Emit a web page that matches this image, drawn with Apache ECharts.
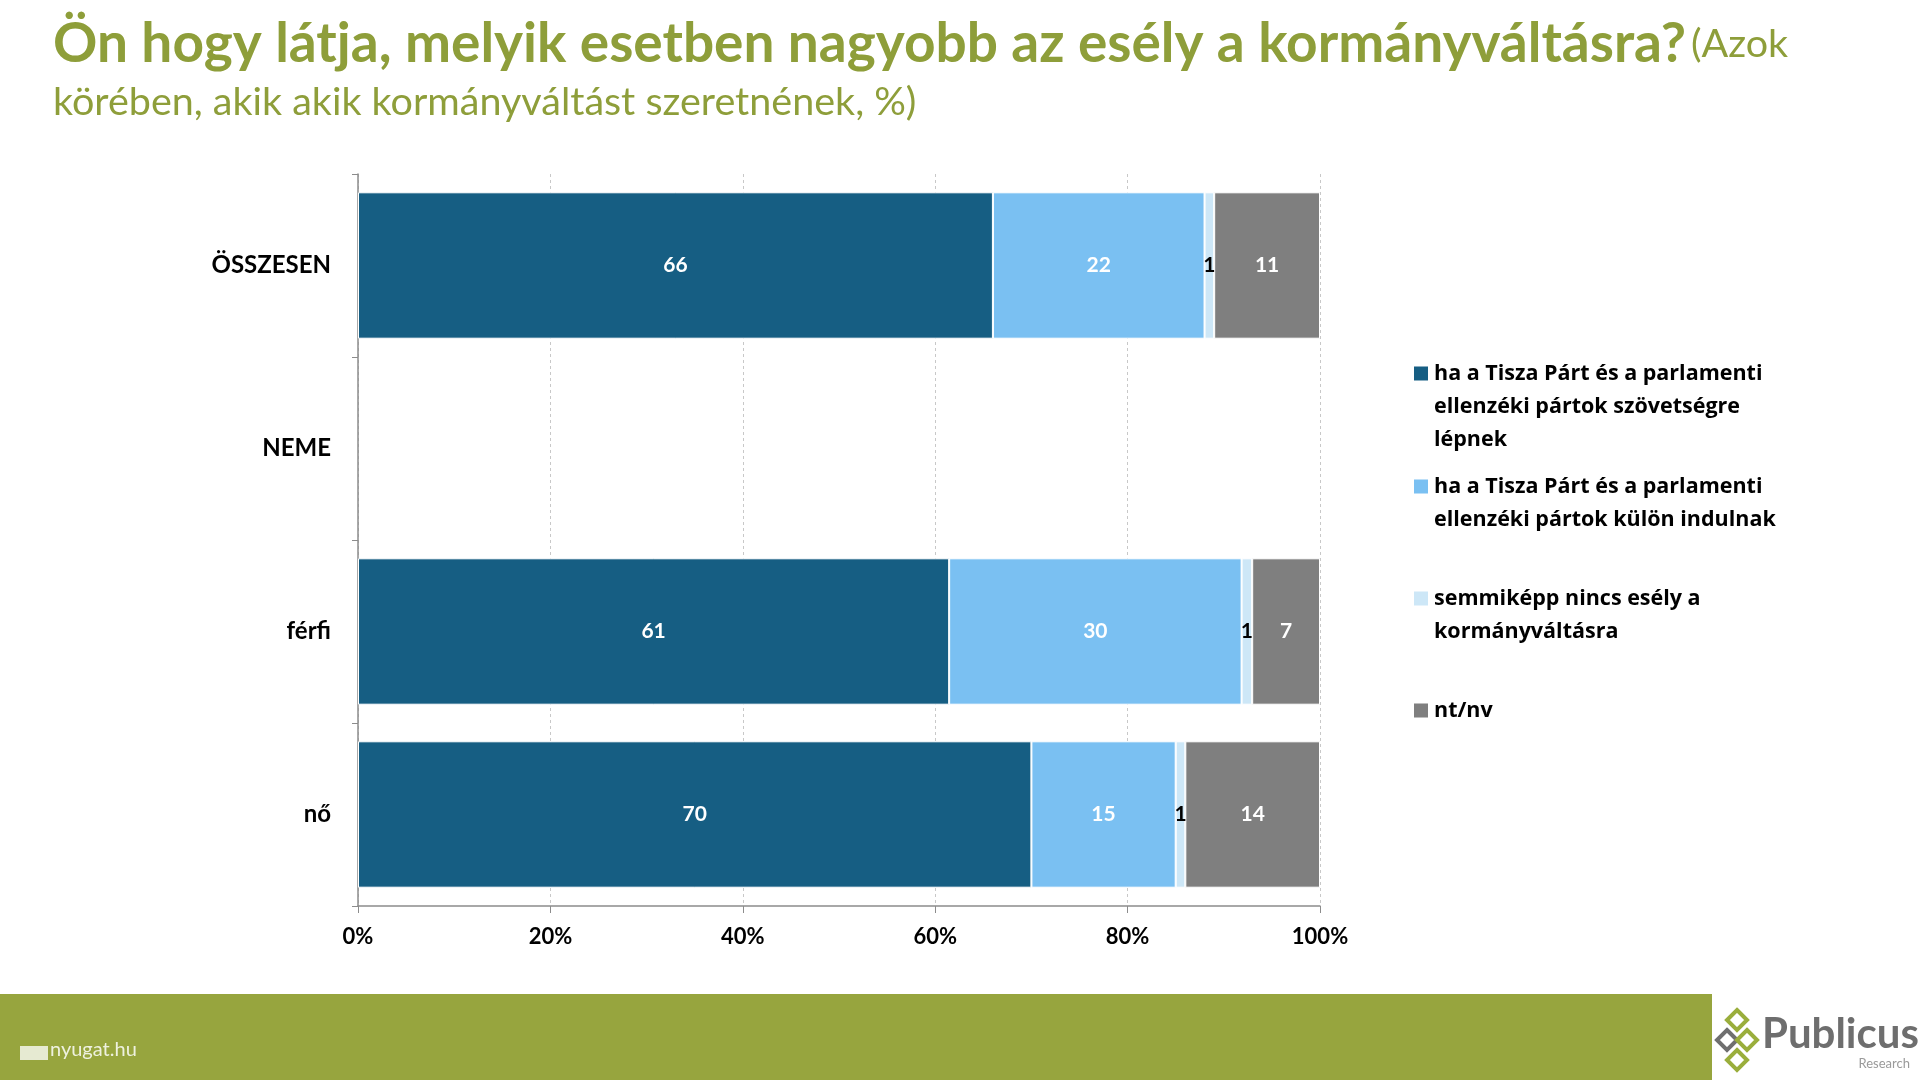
<!DOCTYPE html>
<html>
<head>
<meta charset="utf-8">
<script src="https://cdn.jsdelivr.net/npm/echarts@6/dist/echarts.min.js"></script>
<style>
  html, body { margin: 0; padding: 0; background: #ffffff; }
  #chart { width: 1920px; height: 1080px; }
</style>
</head>
<body>
<div id="chart"></div>
<script>
// adatok
const categories = ['ÖSSZESEN', 'NEME', 'férfi', 'nő'];
const seriesNames = [
  'ha a Tisza Párt és a parlamenti ellenzéki pártok szövetségre lépnek',
  'ha a Tisza Párt és a parlamenti ellenzéki pártok külön indulnak',
  'semmiképp nincs esély a kormányváltásra',
  'nt/nv'
];
const legendLabels = [
  'ha a Tisza Párt és a parlamenti\nellenzéki pártok szövetségre\nlépnek',
  'ha a Tisza Párt és a parlamenti\nellenzéki pártok külön indulnak',
  'semmiképp nincs esély a\nkormányváltásra',
  'nt/nv'
];
const allianceValues = [66, null, 61.45, 70];
const separateValues = [22, null, 30.4, 15];
const noChanceValues = [1, null, 1.1, 1];
const dontKnowValues = [11, null, 7.05, 14];
const xTicks = [0, 20, 40, 60, 80, 100];

const colors = ['#165E83', '#7AC0F2', '#CDE7F7', '#7F7F7F'];
const labelColors = ['#ffffff', '#ffffff', '#000000', '#ffffff'];
const FONT = 'Lato';
const LINE_H = 33;

const chart = echarts.init(document.getElementById('chart'));

const valueSets = [allianceValues, separateValues, noChanceValues, dontKnowValues];

const series = valueSets.map((vals, i) => ({
  name: seriesNames[i],
  type: 'bar',
  stack: 'total',
  barCategoryGap: '20%',
  data: vals,
  itemStyle: { color: colors[i], borderColor: '#ffffff', borderWidth: 1 },
  label: {
    show: true,
    position: 'inside',
    color: labelColors[i],
    fontFamily: FONT,
    fontWeight: 'bold',
    fontSize: 21,
    formatter: p => (p.value == null ? '' : Math.round(p.value))
  },
  emphasis: { disabled: true }
}));

// jelmagyarázat: minden tétel külön, hogy a négyzet az első sorhoz igazodjon
const legendTops = [357, 470, 582, 694];
const legends = seriesNames.map((name, i) => {
  const lines = legendLabels[i].split('\n').length;
  const h = lines * LINE_H;
  const off = (LINE_H - 14) / 2;
  return {
    show: true,
    left: 1414,
    top: legendTops[i],
    padding: 0,
    orient: 'vertical',
    itemWidth: 14,
    itemHeight: h,
    itemGap: 0,
    selectedMode: false,
    data: [{
      name: name,
      icon: 'path://M0,0L0.01,0M0,' + off + 'h14v14h-14zM0,' + h + 'L0.01,' + h
    }],
    itemStyle: { borderWidth: 0 },
    formatter: () => legendLabels[i],
    textStyle: {
      fontFamily: '"Open Sans"',
      fontWeight: 'bold',
      fontSize: 21.5,
      lineHeight: LINE_H,
      color: '#000000',
      padding: [0, 0, 0, 1]
    }
  };
});

const option = {
  backgroundColor: '#ffffff',
  animation: false,
  title: {
    left: 53,
    top: 12,
    padding: 0,
    text: '{b|Ön hogy látja, melyik esetben nagyobb az esély a kormányváltásra?} {r|(Azok}\n{r|körében, akik akik kormányváltást szeretnének, %)}',
    textStyle: {
      rich: {
        b: { fontFamily: FONT, fontWeight: 'bold', fontSize: 55, color: '#8E9E3A', lineHeight: 64 },
        r: { fontFamily: FONT, fontWeight: 'normal', fontSize: 39.5, color: '#8E9E3A', lineHeight: 52 }
      }
    }
  },
  legend: legends,
  grid: { left: 358, right: 600, top: 174, bottom: 174, containLabel: false },
  xAxis: {
    type: 'value',
    min: 0,
    max: 100,
    interval: 20,
    axisLine: { show: true, lineStyle: { color: '#8C8C8C', width: 1.5 } },
    axisTick: { show: true, length: 7, lineStyle: { color: '#8C8C8C' } },
    splitLine: { show: true, lineStyle: { color: '#C8C8C8', type: [3, 3] } },
    axisLabel: {
      margin: 20,
      fontFamily: FONT,
      fontWeight: 'bold',
      fontSize: 22,
      color: '#000000',
      formatter: v => (xTicks.includes(v) ? v + '%' : '')
    }
  },
  yAxis: {
    type: 'category',
    inverse: true,
    data: categories,
    axisLine: { show: true, lineStyle: { color: '#8C8C8C', width: 1.5 } },
    axisTick: { show: true, length: 6, alignWithLabel: false, lineStyle: { color: '#8C8C8C' } },
    axisLabel: {
      margin: 27,
      fontFamily: FONT,
      fontWeight: 'bold',
      fontSize: 24,
      color: '#000000'
    }
  },
  series: series,
  graphic: [
    { type: 'rect', left: 0, top: 994, shape: { width: 1712, height: 86 }, style: { fill: '#97A53E' }, silent: true },
    { type: 'rect', left: 20, top: 1046, shape: { width: 28, height: 14 }, style: { fill: '#E6EAD2' }, silent: true },
    { type: 'text', left: 50, top: 1040, style: { text: 'nyugat.hu', fill: '#EEF1DF', font: '20px "Liberation Sans Narrow", Lato, sans-serif' }, silent: true },
    { type: 'polygon', shape: { points: [[1737, 1010], [1747, 1020], [1737, 1030], [1727, 1020]] }, style: { fill: 'none', stroke: '#9AAE3C', lineWidth: 4 }, silent: true },
    { type: 'polygon', shape: { points: [[1727, 1030], [1737, 1040], [1727, 1050], [1717, 1040]] }, style: { fill: 'none', stroke: '#6F6F6F', lineWidth: 4 }, silent: true },
    { type: 'polygon', shape: { points: [[1747, 1030], [1757, 1040], [1747, 1050], [1737, 1040]] }, style: { fill: 'none', stroke: '#9AAE3C', lineWidth: 4 }, silent: true },
    { type: 'polygon', shape: { points: [[1737, 1050], [1747, 1060], [1737, 1070], [1727, 1060]] }, style: { fill: 'none', stroke: '#9AAE3C', lineWidth: 4 }, silent: true },
    { type: 'text', left: 1762, top: 1013, style: { text: 'Publicus', fill: '#6E6E6E', font: 'bold 42px Lato' }, silent: true },
    { type: 'text', right: 10, top: 1057, style: { text: 'Research', fill: '#9A9A9A', font: '13px Lato' }, silent: true }
  ]
};

chart.setOption(option);
</script>
</body>
</html>
